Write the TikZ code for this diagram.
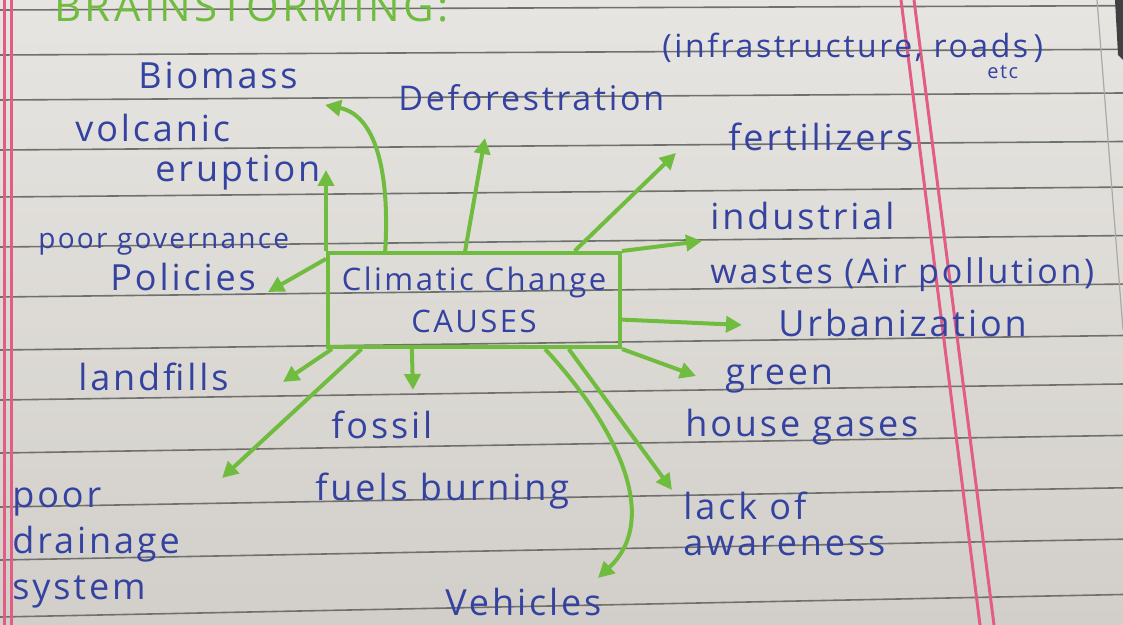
\documentclass[tikz,border=0pt]{standalone}
\usepackage{fontspec}
\newfontfamily\hand[LetterSpace=8]{Open Sans}
\usetikzlibrary{calc,arrows.meta}

\definecolor{ink}{RGB}{52,66,160}
\definecolor{marker}{RGB}{112,188,62}
\definecolor{paperlight}{RGB}{231,229,225}
\definecolor{paperdark}{RGB}{210,207,202}
\definecolor{ruling}{RGB}{112,112,110}
\definecolor{pinkline}{RGB}{226,92,132}

\tikzset{
  cause/.style={text=ink, font=\hand\fontsize{18}{20}\selectfont, align=left, inner sep=0pt},
  hub/.style={draw=marker, line width=2pt, text=ink, font=\hand\fontsize{15.5}{21}\selectfont,
    align=center, minimum width=146pt, minimum height=47pt, inner sep=0pt},
  link/.style={draw=marker, line width=2pt, -{Triangle[length=8pt,width=8pt]}},
  ruled/.style={draw=ruling, line width=0.8pt},
  marginline/.style={draw=pinkline, line width=1.5pt}
}

\begin{document}
\begin{tikzpicture}[x=0.5pt,y=-0.5pt]
  \useasboundingbox (0,0) rectangle (1123,625);
  \clip (0,0) rectangle (1123,625);

  % the notebook page
  \shade[top color=paperlight, bottom color=paperdark] (0,0) rectangle (1123,625);
  \foreach \y in {10,55,100,150,197,247,297,350,400,453,507,560,617}
    \draw[ruled] (0,\y) -- (1123,{\y-4-0.03*\y});
  \draw[marginline] (4,0) -- (4,625);
  \draw[marginline] (11,0) -- (11,625);
  \draw[marginline] (901,0) -- (980,625);
  \draw[marginline] (914,0) -- (994,625);
  \draw[draw=ruling!60, line width=0.6pt] (1097,0) -- (1123,330);
  \fill[black!75] (1115,0) -- (1123,0) -- (1123,60) -- (1118,55) -- cycle;

  % heading, cut off by the top of the photo
  \node[anchor=base west, text=marker, inner sep=0pt,
        font=\hand\fontsize{21}{24}\selectfont] (title) at (54,22) {BRAINSTORMING:};

  % centre box
  \node[hub] (causes) at (474,300) {Climatic Change\\CAUSES};

  % causes
  \node[cause, anchor=west] (biomass) at (138,75) {Biomass};
  \node[cause, anchor=west, font=\hand\fontsize{17}{20}\selectfont] (defor) at (398,98) {Deforestration};
  \node[cause, anchor=base west, font=\hand\fontsize{16}{20}\selectfont] (infra) at (662,58)
    {(infrastructure, roads\llap{\raisebox{-1.2ex}[0pt][0pt]{\fontsize{10}{10}\selectfont etc}\hspace{5pt}}\,)};
  \node[cause, anchor=west] (volcanic) at (75,152) {volcanic\\\hspace*{40pt}eruption};
  \node[cause, anchor=west] (fert) at (728,137) {fertilizers};
  \node[cause, anchor=west] (governance) at (38,262)
    {{\fontsize{14}{16}\selectfont poor governance}\\[1pt]\hspace*{36pt}Policies};
  \node[cause, anchor=west] (industrial) at (710,247)
    {industrial\\[7pt]{\fontsize{17}{20}\selectfont wastes (Air pollution)}};
  \node[cause, anchor=west] (urban) at (778,323) {Urbanization};
  \node[cause, anchor=west] (landfills) at (78,377) {landfills};
  \node[cause, anchor=west] (greenhouse) at (685,405) {\hspace*{20pt}green\\[6pt]house gases};
  \node[cause, anchor=west] (fossil) at (315,460) {\hspace*{8pt}fossil\\[11pt]fuels burning};
  \node[cause, anchor=west] (drainage) at (12,548) {poor\\[3pt]drainage\\[3pt]system};
  \node[cause, anchor=west] (awareness) at (683,524) {lack of\\[-2pt]awareness};
  \node[cause, anchor=west] (vehicles) at (445,602) {Vehicles};

  % arrow tips
  \coordinate (biomass tip) at (325,105);
  \coordinate (defor tip) at (485,138);
  \coordinate (fert tip) at (676,153);
  \coordinate (industrial tip) at (702,241);
  \coordinate (volcanic tip) at (326,170);
  \coordinate (governance tip) at (268,292);
  \coordinate (urban tip) at (742,325);
  \coordinate (greenhouse tip) at (696,376);
  \coordinate (awareness tip) at (672,490);
  \coordinate (vehicles tip) at (598,578);
  \coordinate (fossil tip) at (413,390);
  \coordinate (landfills tip) at (283,382);
  \coordinate (drainage tip) at (222,478);

  % connectors
  \draw[link] ($(causes.north west)!0.2!(causes.north east)$)
    .. controls (390,170) and (375,115) .. (biomass tip);
  \draw[link] ($(causes.north west)!0.47!(causes.north east)$) -- (defor tip);
  \draw[link] ($(causes.north west)!0.84!(causes.north east)$) -- (fert tip);
  \draw[link] (causes.north east) -- (industrial tip);
  \draw[link] (causes.north west) -- (volcanic tip);
  \draw[link] ($(causes.north west)!0.08!(causes.south west)$) -- (governance tip);
  \draw[link] ($(causes.north east)!0.7!(causes.south east)$) -- (urban tip);
  \draw[link] (causes.south east) -- (greenhouse tip);
  \draw[link] ($(causes.south west)!0.82!(causes.south east)$) -- (awareness tip);
  \draw[link] ($(causes.south west)!0.74!(causes.south east)$)
    .. controls (620,430) and (660,520) .. (vehicles tip);
  \draw[link] ($(causes.south west)!0.29!(causes.south east)$) -- (fossil tip);
  \draw[link] ($(causes.south west)!0.02!(causes.south east)$) -- (landfills tip);
  \draw[link] ($(causes.south west)!0.12!(causes.south east)$) -- (drainage tip);
\end{tikzpicture}
\end{document}
